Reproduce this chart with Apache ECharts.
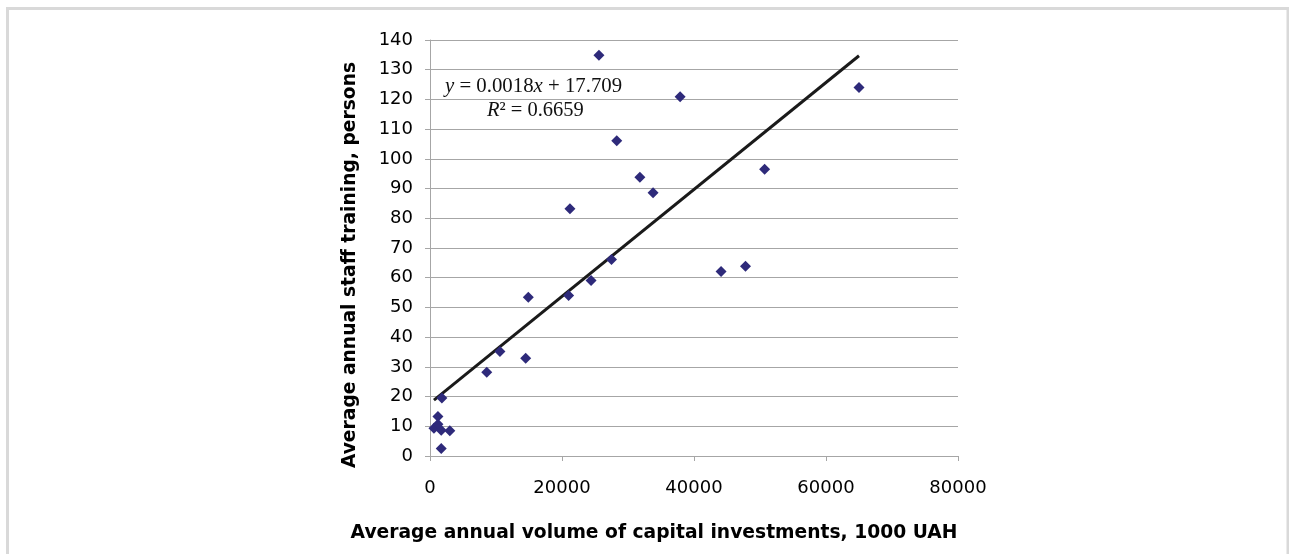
<!DOCTYPE html>
<html>
<head>
<meta charset="utf-8">
<script src="https://cdn.jsdelivr.net/npm/echarts@6/dist/echarts.min.js"></script>
<style>
  html, body { margin: 0; padding: 0; background: #ffffff; }
  #chart { width: 1289px; height: 554px; }
</style>
</head>
<body>
<div id="chart"></div>
<script>
// Average annual volume of capital investments (1000 UAH) per enterprise
const investments = [
  25600, 37900, 65000, 28300, 31800, 33800, 50700, 21200,
  27500, 44100, 47800, 14900, 21000, 24400, 10600, 14500,
  8600, 1800, 1200, 600, 1200, 1700, 3000, 1700
];
// Average annual staff training (persons), same order
const training = [
  134.9, 120.9, 124.0, 106.1, 93.8, 88.6, 96.5, 83.2,
  66.1, 62.1, 63.9, 53.4, 54.0, 59.1, 35.2, 32.9,
  28.2, 19.5, 13.3, 9.3, 10.7, 8.7, 8.5, 2.5
];
// Linear trend as reported on the chart
const trendSlope = 0.0018;
const trendIntercept = 17.709;
const trendLabel = '{i|y} = 0.0018{i|x} + 17.709';
const r2Label = '{i|R}² = 0.6659';

// Axis ranges and tick steps
const xAxisRange = [0, 80000];
const xStep = 20000;
const yAxisRange = [0, 140];
const yStep = 10;

const xTitle = 'Average annual volume of capital investments, 1000 UAH';
const yTitle = 'Average annual staff training, persons';

const points = investments.map((x, i) => [x, training[i]]);
const xMin = Math.min(...investments);
const xMax = Math.max(...investments);
const trendPoints = [xMin, xMax].map(x => [x, trendSlope * x + trendIntercept]);

const gridColor = '#a6a6a6';
const uiFont = "'DejaVu Sans', Verdana, sans-serif";
const serifFont = "'Liberation Serif', 'Times New Roman', serif";

const chart = echarts.init(document.getElementById('chart'), null, { renderer: 'canvas' });

chart.setOption({
  backgroundColor: '#ffffff',
  animation: false,
  grid: { left: 430, right: 331, top: 40, bottom: 98, containLabel: false },
  xAxis: {
    type: 'value',
    min: xAxisRange[0],
    max: xAxisRange[1],
    interval: xStep,
    axisLine: { show: true, lineStyle: { color: gridColor, width: 1 } },
    axisTick: { show: true, inside: false, length: 5, lineStyle: { color: gridColor } },
    splitLine: { show: false },
    axisLabel: {
      color: '#000', fontSize: 18, fontFamily: uiFont, margin: 23,
      formatter: v => String(v)
    }
  },
  yAxis: {
    type: 'value',
    min: yAxisRange[0],
    max: yAxisRange[1],
    interval: yStep,
    axisLine: { show: true, lineStyle: { color: gridColor, width: 1 } },
    axisTick: { show: true, inside: false, length: 5, lineStyle: { color: gridColor } },
    splitLine: { show: true, lineStyle: { color: gridColor, width: 1 } },
    axisLabel: { color: '#000', fontSize: 18, fontFamily: uiFont, margin: 17 }
  },
  series: [
    {
      type: 'scatter',
      data: points,
      symbol: 'diamond',
      symbolSize: 11,
      itemStyle: { color: '#2e2a7a', opacity: 1 },
      z: 3
    },
    {
      type: 'line',
      data: trendPoints,
      symbol: 'none',
      lineStyle: { color: '#1a1a1a', width: 3 },
      z: 2
    }
  ],
  graphic: [
    // outer frame
    {
      type: 'polyline',
      shape: { points: [[7.5, 560], [7.5, 8.5], [1288, 8.5], [1288, 560]] },
      style: { stroke: '#d9d9d9', lineWidth: 3, fill: null },
      silent: true
    },
    {
      type: 'text',
      x: 350,
      y: 265,
      rotation: Math.PI / 2,
      style: {
        text: yTitle,
        fill: '#000',
        font: "bold 18.7px " + uiFont,
        textAlign: 'center',
        textVerticalAlign: 'middle'
      }
    },
    {
      type: 'text',
      x: 654,
      y: 533,
      style: {
        text: xTitle,
        fill: '#000',
        font: "bold 18.7px " + uiFont,
        textAlign: 'center',
        textVerticalAlign: 'middle'
      }
    },
    {
      type: 'text',
      x: 445,
      y: 87,
      z: 10,
      style: {
        text: trendLabel,
        fill: '#111',
        font: "20.8px " + serifFont,
        textAlign: 'left',
        textVerticalAlign: 'middle',
        rich: {
          i: { fontStyle: 'italic', fontSize: 20.8, fontFamily: serifFont, fill: '#111' }
        }
      }
    },
    {
      type: 'text',
      x: 487,
      y: 111,
      z: 10,
      style: {
        text: r2Label,
        fill: '#111',
        font: "20.5px " + serifFont,
        textAlign: 'left',
        textVerticalAlign: 'middle',
        rich: {
          i: { fontStyle: 'italic', fontSize: 20.5, fontFamily: serifFont, fill: '#111' }
        }
      }
    }
  ]
});
</script>
</body>
</html>
